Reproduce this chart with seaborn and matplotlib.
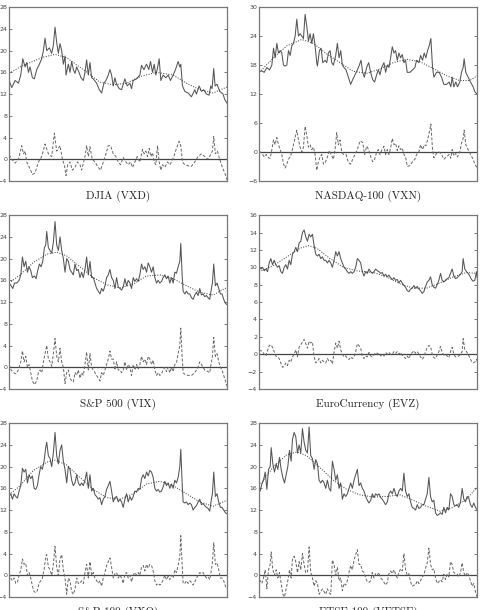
import pandas as pd
import numpy as np
import seaborn as sns
import matplotlib.pyplot as plt

# (obs, value) pairs
# DJIA (VXD)
vxd_level = [(0, 14.5), (8, 13.2), (18, 14.5), (28, 14), (35, 15.5), (41, 18.5), (48, 17), (53, 17.8), (58, 16), (63, 17),
             (70, 15), (76, 14.8), (83, 16.5), (91, 17.5), (98, 18.5), (103, 20), (108, 22.3), (113, 20), (121, 20.5), (128, 19.5),
             (133, 21), (138, 24.3), (143, 21.5), (148, 19.5), (153, 21.3), (158, 20), (163, 17.5), (168, 19), (171, 15.5), (178, 17.5),
             (183, 16), (188, 18), (193, 16.5), (198, 15.8), (203, 17), (210, 16), (216, 15), (223, 14.5), (228, 16), (233, 18.3),
             (238, 15.5), (243, 17.8), (248, 15), (253, 14.8), (263, 14), (271, 12.8), (278, 12.2), (285, 14), (291, 14.5), (298, 15.5),
             (303, 16.5), (308, 15.5), (313, 13.5), (318, 15), (323, 13.8), (331, 13), (338, 12.8), (348, 14.8), (355, 13.5), (363, 14),
             (368, 13), (373, 14.5), (383, 14.8), (393, 15.5), (398, 17.3), (405, 16.5), (413, 17.5), (420, 16.5), (425, 18), (431, 16),
             (436, 17.5), (441, 15.5), (445, 16.5), (451, 18.5), (456, 14.5), (463, 15.5), (471, 15), (478, 15.5), (485, 14.5), (493, 15.5),
             (500, 16.5), (508, 18), (513, 17), (516, 17.5), (521, 13.5), (528, 12.5), (538, 12.2), (548, 11.5), (558, 12.8), (563, 12),
             (571, 13.5), (578, 12.5), (585, 12.8), (593, 12), (601, 11.8), (606, 13.5), (610, 13), (615, 16.7), (619, 13.5), (625, 13.8),
             (633, 12.5), (643, 12), (648, 11), (655, 10.3)]
vxd_trend = [(0, 15.8), (33, 17), (63, 17.8), (103, 18.8), (138, 19.3), (173, 18.7), (223, 16.5), (273, 14.2), (313, 13.7),
             (353, 14), (393, 15.2), (443, 16), (493, 15.5), (533, 14), (573, 12.8), (613, 12.2), (655, 13.3)]
vxd_cycle = [(0, 0.8), (8, 0), (18, -0.7), (28, 0), (38, 2.5), (43, 1), (48, 1.5), (53, -0.5), (61, -1.5), (70, -2.8),
             (78, -2.5), (88, -0.5), (98, 0.5), (108, 2.8), (118, 1), (128, 0.5), (136, 4.8), (143, 1.5), (153, 2.5), (160, 0),
             (166, -1), (171, -3), (176, -1), (183, -0.5), (190, -2), (198, -1.5), (205, -0.5), (213, -1), (218, -2), (228, 0.5),
             (233, 2.5), (238, 0.5), (243, 2.3), (250, 0), (258, -0.5), (268, -1.5), (275, -2), (283, -0.5), (291, 1), (298, 2.5),
             (305, 2.5), (313, 1), (321, 0.5), (328, -0.5), (335, -1), (343, 0.3), (351, -0.5), (358, -1), (365, -0.5), (371, -1.5),
             (378, -0.5), (385, 0.5), (393, -0.5), (401, 1.8), (406, 1), (411, 1.5), (416, 0.5), (421, 2), (426, 0.5), (431, 1.2),
             (436, -0.5), (441, -1), (446, 2.5), (451, -0.5), (456, -2), (461, -1), (468, -1.5), (476, -0.5), (483, -1), (488, -0.5),
             (495, 0.5), (503, 2), (511, 3.3), (516, 2.5), (521, -0.5), (528, -1), (538, -1.2), (548, -1.3), (558, -0.5), (568, 0.5),
             (578, 1), (588, 0.5), (598, 0), (605, 0.8), (611, 1.5), (615, 4.2), (620, 1), (626, 1.5), (633, 0), (641, -1.5),
             (648, -2.5), (655, -3.8)]

# NASDAQ-100 (VXN)
vxn_level = [(0, 16.6), (8, 16.8), (15, 16.5), (23, 17.5), (31, 17), (38, 18), (43, 21.5), (48, 19.5), (53, 22.5), (58, 20.5),
             (63, 21), (68, 20.5), (73, 18), (78, 17.8), (83, 18), (88, 21), (93, 20), (98, 22), (103, 22.5), (108, 24),
             (113, 27.5), (118, 24), (123, 24.5), (128, 24), (133, 23.5), (138, 28.5), (143, 26), (148, 23), (153, 24.5), (158, 22.5),
             (163, 24.5), (168, 22), (173, 18.5), (175, 17.8), (181, 21), (186, 21.5), (191, 18.5), (198, 19), (203, 18.5), (208, 20.5),
             (213, 21), (218, 18.5), (223, 18), (230, 20), (235, 22.5), (240, 19.5), (245, 21), (250, 18), (255, 17.5), (261, 17),
             (268, 15.5), (275, 14), (281, 15), (288, 16), (295, 17), (301, 18), (306, 19), (311, 16.5), (316, 15.5), (323, 17.5),
             (329, 18.5), (335, 16.5), (341, 15), (347, 14.5), (353, 16), (358, 17), (363, 16), (368, 17.5), (375, 18.5), (380, 16.5),
             (385, 18), (390, 17.5), (395, 19.5), (400, 21.8), (405, 20.5), (410, 21), (415, 19), (420, 20.5), (425, 19.5), (430, 20.2),
             (435, 18.5), (440, 19), (445, 16.5), (453, 16.5), (461, 17), (468, 17.5), (473, 19), (480, 18.5), (485, 20), (491, 19),
             (496, 20.5), (501, 19.5), (506, 21), (511, 22), (516, 23.5), (521, 17.5), (525, 15.5), (533, 16.5), (541, 16.5), (548, 15.5),
             (555, 14), (563, 14), (571, 14.5), (576, 13.5), (580, 15.5), (585, 13.5), (591, 14.5), (596, 13.5), (603, 14.5), (608, 16.5),
             (613, 17.5), (616, 19.3), (621, 16.5), (628, 15.5), (635, 14.5), (643, 13.5), (648, 12.5), (655, 12)]
vxn_trend = [(0, 16.5), (43, 19.5), (83, 22), (128, 23.3), (163, 22.5), (203, 20.3), (243, 18.5), (283, 16.7), (323, 16.3),
             (363, 17.2), (403, 18.5), (443, 19.2), (483, 18.7), (523, 17.3), (563, 15.8), (603, 14.8), (633, 14.8), (655, 15.8)]
vxn_cycle = [(0, 0.2), (8, -0.3), (15, -1), (21, -0.5), (28, -1.2), (33, -1.3), (38, 0.5), (43, 2.5), (48, 1.5), (53, 3),
             (58, 1.5), (63, 0.5), (68, -0.5), (73, -2.5), (78, -3.3), (83, -2.5), (88, -1.5), (93, -1), (98, 0), (103, 1.5),
             (108, 3), (113, 4.5), (118, 2.5), (123, 1), (128, 0), (133, 1), (138, 5.3), (143, 3.5), (148, 1), (153, 1.5),
             (158, 0.5), (163, 1), (168, -0.5), (173, -3.8), (178, -2), (183, -1), (188, -0.5), (193, -2.5), (198, -2.3), (205, -1),
             (211, 0.3), (216, -0.5), (223, -1.5), (228, 0.5), (233, 4), (238, 1.5), (243, 2.5), (248, 0), (253, -0.5), (261, -0.5),
             (268, -2.2), (275, -2.5), (281, -1.5), (288, -0.5), (295, 0.5), (303, 2.3), (311, 2), (317, -0.5), (323, 1.2), (329, 0.5),
             (335, -1), (341, -2), (347, -1.5), (353, 0), (358, 0.5), (363, -0.5), (369, 0.5), (375, 1.2), (380, -0.5), (385, 0.5),
             (390, -0.5), (395, 0.8), (400, 2.8), (405, 1.5), (410, 1.8), (415, 0.3), (420, 1.3), (425, 0.5), (430, 0.8), (435, -0.5),
             (440, -1), (445, -3), (453, -2.8), (461, -2), (468, -1.5), (473, -0.5), (480, 0), (485, 1.5), (491, 0.5), (496, 1.5),
             (501, 1.3), (506, 2.5), (511, 4), (516, 5.8), (521, 0.5), (525, -1.2), (533, -0.3), (541, 0), (548, -0.5), (555, -1.5),
             (563, -1), (571, -0.5), (576, -1.3), (580, 0.5), (585, -0.8), (591, -0.3), (596, -1), (603, 0), (608, 1.8), (613, 2.8),
             (616, 4.5), (621, 1.5), (628, 0.5), (635, -0.5), (643, -1.5), (648, -2.5), (655, -3.3)]

# S&P 500 (VIX)
vix_level = [(0, 15.5), (6, 15), (11, 14.5), (16, 15.5), (23, 15.5), (30, 16), (35, 17), (40, 20.3), (45, 18.5), (50, 19.5),
             (55, 17.5), (60, 18.5), (65, 17.8), (70, 16.5), (76, 16.8), (81, 16.3), (86, 17.8), (91, 19), (96, 18.5), (101, 19.5),
             (106, 22), (110, 22.5), (113, 25), (118, 22), (123, 21.5), (128, 21), (133, 23), (138, 26.8), (143, 22.5), (148, 21.5),
             (153, 24), (158, 21.5), (163, 20), (168, 17.5), (173, 20), (178, 19.5), (183, 18), (188, 17.5), (193, 17), (198, 19),
             (203, 17.8), (208, 18), (213, 16.5), (218, 17.5), (223, 16.5), (228, 18), (233, 20.3), (238, 17), (243, 19.5), (248, 16.5),
             (253, 16.5), (258, 15.5), (263, 14.5), (268, 14), (273, 13.5), (278, 14.5), (283, 14), (288, 15), (293, 16.5), (298, 17),
             (303, 18), (308, 16.5), (313, 16), (318, 14.5), (323, 16.5), (328, 14.8), (333, 14.5), (338, 14.2), (343, 14.8), (348, 16.3),
             (353, 15), (358, 16), (363, 15.5), (368, 14.5), (373, 16.5), (378, 15.8), (383, 16.3), (388, 15.8), (393, 17), (398, 19),
             (403, 18), (408, 18.5), (413, 17.5), (418, 19.2), (423, 18.5), (428, 17.5), (433, 18.5), (438, 16.5), (443, 15.5), (448, 16),
             (453, 15.5), (458, 15.8), (463, 16.5), (468, 17), (473, 16.3), (478, 16.8), (483, 15.5), (488, 16.5), (493, 15.5), (498, 17.5),
             (503, 17.3), (508, 18.5), (513, 19.5), (516, 22.8), (520, 17), (523, 14), (528, 13.5), (533, 14), (538, 13.5), (543, 13.5),
             (548, 12.8), (553, 12.5), (558, 13.3), (563, 13.8), (568, 13.2), (573, 14.5), (578, 13.3), (583, 13.5), (588, 13), (593, 13.2),
             (598, 12.8), (603, 12.5), (608, 14.5), (611, 15.5), (615, 19), (620, 15), (625, 15.5), (630, 14.5), (635, 13.5), (640, 13.5),
             (645, 12.5), (650, 11.8), (655, 11.5)]
vix_trend = [(0, 15.5), (33, 17), (73, 19.3), (113, 20.8), (143, 21.2), (173, 20.5), (213, 18.5), (253, 16.5), (293, 15.2),
             (333, 14.6), (373, 15.3), (413, 16.8), (453, 17), (493, 16.3), (533, 15), (573, 13.8), (613, 13.3), (655, 14.7)]
vix_cycle = [(0, 0.5), (6, -0.5), (13, -1), (20, -1.2), (28, -0.5), (35, 1), (40, 3), (45, 1), (50, 2), (55, 0),
             (60, 0.5), (65, -1), (70, -2.5), (76, -3.2), (83, -2.5), (88, -1), (93, -0.5), (98, -1), (103, 1), (108, 2.5),
             (113, 4), (118, 1.5), (123, 1), (128, 0.2), (133, 2.5), (138, 5.3), (143, 2), (148, 1), (153, 3.5), (158, 1),
             (163, 0), (168, -3), (173, -1), (178, -0.5), (183, -2), (188, -2.5), (193, -2.7), (198, -1), (203, -1.5), (208, -0.5),
             (213, -2), (218, -1), (223, -1.5), (228, 0.5), (233, 2.8), (238, -0.5), (243, 2.5), (248, 0), (253, -0.5), (258, -1),
             (263, -1.5), (268, -2), (273, -2.5), (278, -1), (283, -1.5), (288, -0.5), (293, 0.5), (298, 1.5), (303, 3), (308, 1.5),
             (313, 1.5), (318, -0.5), (323, 1), (328, -0.5), (333, -0.5), (338, -1), (343, -0.5), (348, 1), (353, -0.5), (358, 0.5),
             (363, 0), (368, -1.5), (373, 0.5), (378, -0.5), (383, 0.5), (388, -0.3), (393, 0.5), (398, 2), (403, 1), (408, 1.5),
             (413, 0.5), (418, 2), (423, 1.5), (428, 0.5), (433, 1.3), (438, -0.5), (443, -1.5), (448, -1), (453, -1.5), (458, -1.2),
             (463, -0.5), (468, 0), (473, -0.8), (478, 0), (483, -1), (488, 0), (493, -0.8), (498, 0.5), (503, 0.8), (508, 2.5),
             (513, 4), (516, 7.2), (520, 2), (523, -1), (528, -1.3), (538, -1.5), (548, -1.5), (558, -1), (568, 0), (573, 1),
             (578, 0.5), (588, -0.5), (598, -0.8), (603, -1), (608, 1), (611, 2), (615, 5.5), (620, 2), (625, 2.5), (630, 1),
             (635, 0), (640, -0.5), (645, -1.5), (650, -2.5), (655, -3.5)]

# EuroCurrency (EVZ)
evz_level = [(0, 10), (5, 9.8), (10, 10), (15, 9.6), (20, 9.8), (25, 9.5), (30, 10.5), (35, 11), (40, 10.3), (45, 10.8),
             (50, 10.3), (55, 10), (60, 10.2), (65, 9.5), (70, 9.3), (75, 10), (80, 10.3), (85, 9.8), (90, 10.8), (95, 10.3),
             (100, 11.5), (105, 11.8), (110, 12.3), (115, 11.8), (120, 12.8), (125, 13), (130, 14), (135, 14.3), (140, 13.5), (145, 13),
             (150, 13.8), (155, 13.5), (160, 13.8), (165, 12.5), (170, 11.5), (175, 11.3), (180, 11.5), (185, 11), (190, 11.2), (195, 10.8),
             (200, 10.8), (205, 10.5), (210, 10.8), (215, 10.5), (220, 10), (225, 10.8), (230, 11.8), (235, 11.3), (240, 11.8), (245, 11),
             (250, 10.5), (255, 10), (260, 9.8), (265, 9.5), (270, 9.3), (275, 9.5), (280, 9.3), (285, 9.5), (290, 10), (295, 11),
             (300, 10.8), (305, 10.5), (310, 9.5), (315, 9), (320, 9.5), (325, 9.3), (330, 9.8), (335, 9.5), (340, 9.3), (345, 9.5),
             (350, 9.8), (355, 9.6), (360, 9.5), (365, 9.3), (370, 9.4), (375, 9), (380, 9.2), (385, 8.9), (390, 9.1), (395, 8.8),
             (400, 8.6), (405, 8.8), (410, 8.5), (415, 8.6), (420, 8.2), (425, 8.5), (430, 8.2), (435, 7.9), (440, 7.7), (445, 7.3),
             (450, 7.2), (455, 7.5), (460, 7.6), (465, 7.9), (470, 7.6), (475, 7.8), (480, 7.5), (485, 7.3), (490, 7), (495, 7.2),
             (500, 7.8), (505, 8.3), (510, 8.5), (515, 8.9), (520, 8), (525, 7.7), (530, 7.6), (535, 8), (540, 8.5), (545, 9.3),
             (550, 8.5), (555, 8.3), (560, 8.5), (565, 8.7), (570, 8.8), (575, 9.3), (580, 9.8), (585, 9), (590, 8.7), (595, 8.8),
             (600, 9), (605, 9.2), (610, 9.5), (613, 11), (618, 9.8), (623, 9.5), (628, 9.3), (633, 9), (638, 8.6), (643, 8.4),
             (648, 8.5), (653, 9.5), (655, 8.8)]
evz_trend = [(0, 9.5), (43, 10.2), (83, 11.2), (123, 12.2), (148, 12.5), (173, 12.2), (213, 11), (253, 10), (293, 9.6),
             (343, 9.4), (383, 8.9), (423, 8.1), (463, 7.6), (503, 7.6), (543, 8.2), (583, 8.9), (623, 9.4), (655, 9.3)]
evz_cycle = [(0, 0.5), (5, 0.4), (10, 0.3), (15, 0), (20, -0.2), (25, 0.4), (30, 1), (35, 1.1), (40, 0.8), (45, 0.3),
             (50, -0.2), (55, -0.3), (60, -0.5), (65, -1), (70, -1.5), (75, -1.4), (80, -1), (85, -1.3), (90, -0.7), (95, -0.9),
             (100, -0.3), (105, 0), (110, 0.5), (115, -0.3), (120, 0.8), (125, 1.1), (130, 1.4), (135, 1.7), (140, 1.2), (145, 0.7),
             (150, 1.5), (155, 1.3), (160, 1.4), (165, -0.3), (170, -1), (175, -0.8), (180, -0.5), (185, -1), (190, -0.7), (195, -0.9),
             (200, -1), (205, -0.5), (210, -0.8), (215, -0.7), (220, -1.1), (225, 0.2), (230, 1.3), (235, 0.7), (240, 1.5), (245, 0.5),
             (250, 0), (255, -0.3), (260, -0.2), (265, -0.5), (270, -0.6), (275, -0.3), (280, -0.5), (285, -0.3), (290, 0.3), (295, 1.2),
             (300, 1), (305, 0.7), (310, -0.2), (315, -0.5), (320, -0.2), (325, -0.3), (330, 0.2), (335, -0.2), (340, -0.3), (345, -0.1),
             (350, 0.2), (355, 0.1), (360, 0), (365, -0.2), (370, 0), (375, -0.2), (380, 0.2), (385, 0), (390, 0.2), (395, 0),
             (400, 0), (405, 0.3), (410, 0.1), (415, 0.3), (420, 0), (425, 0.2), (430, -0.1), (435, -0.3), (440, -0.5), (445, -0.2),
             (450, -0.5), (455, 0), (460, 0.2), (465, 0.4), (470, 0.1), (475, 0.3), (480, 0), (485, -0.3), (490, -0.6), (495, -0.3),
             (500, 0.3), (505, 0.8), (510, 1), (515, 0.9), (520, 0), (525, -0.4), (530, -0.5), (535, -0.1), (540, 0.3), (545, 0.9),
             (550, 0.2), (555, -0.1), (560, 0), (565, -0.2), (570, -0.4), (575, 0.3), (580, 0.8), (585, 0), (590, -0.3), (595, -0.3),
             (600, -0.2), (605, 0), (610, 0.3), (613, 1.8), (618, 0.5), (623, 0.3), (628, 0), (633, -0.4), (638, -0.8), (643, -1),
             (648, -0.9), (653, -0.6), (655, -0.8)]

# S&P 100 (VXO)
vxo_level = [(0, 14.5), (5, 15), (10, 14), (15, 15), (20, 14.5), (25, 14.2), (30, 15.5), (35, 16.5), (40, 19.7), (45, 19),
             (50, 19.5), (55, 17), (60, 18.5), (65, 17.8), (70, 18.3), (75, 16), (80, 15.8), (85, 16.5), (90, 18.5), (95, 20),
             (100, 19.5), (105, 21), (110, 23.5), (113, 24.5), (118, 22), (123, 21.5), (128, 20), (133, 22.5), (138, 26.3), (143, 22),
             (148, 20.5), (153, 23), (158, 24), (163, 21), (168, 19.5), (173, 17), (178, 20), (183, 19.5), (188, 17.5), (193, 16.5),
             (198, 17), (203, 18.5), (208, 17), (213, 16.5), (218, 17), (223, 16.5), (228, 17.5), (233, 19), (238, 16), (243, 18.5),
             (248, 15.5), (253, 16), (258, 14.8), (263, 14.5), (268, 14), (273, 14.3), (278, 13), (283, 14), (288, 14.5), (293, 15.8),
             (298, 16.5), (303, 17.3), (308, 15.5), (313, 13.5), (318, 14.3), (323, 14.5), (328, 13.5), (333, 14), (338, 13.5), (343, 12.5),
             (348, 14), (353, 15), (358, 13.5), (363, 14.5), (368, 13.8), (373, 14.5), (378, 15.5), (383, 15.3), (388, 16), (393, 15.8),
             (398, 17.8), (403, 18.5), (408, 17.8), (413, 19), (418, 18.3), (423, 19.3), (428, 19), (433, 18), (438, 16), (443, 15.5),
             (448, 15.8), (453, 15.3), (458, 15.5), (463, 16.3), (468, 17.3), (473, 16.5), (478, 17), (483, 16), (488, 16.8), (493, 16),
             (498, 17.5), (503, 17), (508, 18), (513, 20), (516, 23.2), (520, 17), (523, 13.5), (528, 13.3), (533, 13.5), (538, 13),
             (543, 13.3), (548, 13), (553, 12), (558, 12.5), (563, 12.8), (568, 13.5), (573, 14), (578, 13), (583, 13.2), (588, 12.8),
             (593, 12.5), (598, 12.3), (603, 11.8), (608, 14), (611, 15), (615, 19), (620, 14.5), (625, 15), (630, 13.5), (635, 12.5),
             (640, 12.5), (645, 12), (650, 11.5), (655, 11.3)]
vxo_trend = [(0, 14.8), (33, 16.5), (73, 19.3), (113, 20.8), (138, 21.2), (173, 20.3), (213, 18), (253, 15.8), (293, 14.3),
             (333, 14), (373, 15), (413, 16.8), (453, 17.3), (493, 16.5), (533, 15), (573, 13.5), (613, 12.7), (655, 13.8)]
vxo_cycle = [(0, 0.3), (5, -0.5), (10, -1), (15, -0.5), (20, -1.5), (25, -1.3), (30, 0), (35, 1), (40, 3), (45, 2),
             (50, 2.2), (55, 0), (60, 0.5), (65, -0.5), (70, -2), (75, -3), (80, -3.2), (85, -2.8), (90, -1.5), (95, -1),
             (100, -0.5), (105, 1), (110, 3.5), (113, 3.8), (118, 1.5), (123, 1), (128, 0), (133, 2), (138, 5.3), (143, 1.5),
             (148, 0), (153, 3), (158, 3.8), (163, 1), (168, -0.5), (173, -3.5), (178, -0.5), (183, -1), (188, -3), (193, -3.5),
             (198, -2.5), (203, -0.5), (208, -1.5), (213, -1.5), (218, -1), (223, -1.5), (228, 0.5), (233, 2), (238, -0.5), (243, 2.5),
             (248, 0), (253, 0.5), (258, -0.5), (263, -1), (268, -1.5), (273, -1), (278, -2), (283, -0.5), (288, 0.5), (293, 1.8),
             (298, 2.5), (303, 3.2), (308, 1.5), (313, -0.5), (318, 0.3), (323, 0.5), (328, -0.5), (333, 0), (338, -0.5), (343, -1.5),
             (348, 0.3), (353, 0.5), (358, -0.5), (363, 0), (368, -1.2), (373, 0), (378, 0.5), (383, 0), (388, 0.5), (393, 0),
             (398, 1.5), (403, 1.8), (408, 0.8), (413, 2), (418, 1.3), (423, 2), (428, 1.8), (433, 0.8), (438, -1), (443, -1.8),
             (448, -1.5), (453, -1.8), (458, -1.5), (463, -0.8), (468, 0), (473, -0.8), (478, -0.2), (483, -0.8), (488, 0), (493, -0.5),
             (498, 1), (503, 0.5), (508, 1.8), (513, 3.5), (516, 7.3), (520, 2), (523, -1.5), (528, -1.5), (533, -1), (538, -1.5),
             (543, -1), (548, -1.3), (553, -1.8), (558, -1.3), (563, -0.5), (568, 0), (573, 0.5), (578, 0.3), (583, 0.5), (588, 0),
             (593, -0.5), (598, -0.3), (603, -0.8), (608, 1), (611, 2.3), (615, 6), (620, 2), (625, 2.3), (630, 1), (635, -0.5),
             (640, -0.5), (645, -1), (650, -2), (655, -2.5)]

# FTSE 100 (VFTSE)
vftse_level = [(0, 16.5), (3, 15.5), (8, 16.8), (13, 17.5), (18, 19), (23, 15.8), (28, 19.5), (33, 20), (36, 23.5), (41, 20.5),
               (46, 19), (51, 20.5), (56, 19.5), (61, 21.7), (66, 19.5), (71, 18), (76, 17), (81, 18.5), (86, 20), (91, 23),
               (96, 21), (100, 25), (105, 26.3), (110, 25.5), (115, 22.5), (120, 24), (125, 22.5), (130, 27), (135, 24.5), (140, 23),
               (145, 22.5), (150, 27.3), (155, 22), (160, 21.5), (165, 19.5), (170, 21.3), (175, 20.5), (180, 17.5), (185, 17), (190, 17.5),
               (195, 17), (200, 16), (205, 17.5), (210, 16), (215, 15.5), (220, 21), (225, 19.5), (230, 17.5), (235, 18.5), (240, 16),
               (245, 17), (250, 14), (255, 15), (260, 14.5), (265, 15), (270, 16), (275, 17), (280, 16), (285, 17.5), (290, 18.5),
               (295, 19.5), (300, 16.5), (305, 17), (310, 16), (315, 15.5), (320, 14.5), (325, 13.8), (330, 13.3), (335, 13.8), (340, 15),
               (345, 14.3), (350, 15), (355, 14.7), (360, 15), (365, 14.3), (370, 14), (375, 13.5), (380, 13), (385, 13.5), (390, 15),
               (395, 15.5), (400, 15), (405, 16), (410, 15), (415, 14.5), (420, 15.5), (425, 16), (430, 15.5), (435, 18.8), (440, 15.5),
               (445, 14.5), (450, 15), (455, 13.5), (460, 12.5), (465, 12.3), (470, 12), (475, 13), (480, 12.3), (485, 12.5), (490, 13),
               (495, 13), (500, 14), (505, 15), (510, 18), (515, 14.5), (520, 13.5), (525, 13.8), (530, 11.5), (535, 11), (540, 11.2),
               (545, 11.5), (550, 11.2), (555, 12.5), (560, 11.5), (565, 12.5), (570, 12), (575, 15), (580, 14.5), (585, 13), (590, 12.8),
               (595, 13), (600, 12.5), (605, 13.5), (610, 16), (615, 14), (620, 13.5), (625, 14.5), (630, 14.2), (635, 13), (640, 12.5),
               (645, 13.3), (650, 12.5), (655, 12)]
vftse_trend = [(0, 16.5), (43, 20), (83, 22.2), (113, 22.7), (143, 22), (183, 19.8), (223, 17.5), (263, 15.8), (303, 14.8),
               (343, 14.4), (383, 14.5), (423, 14.8), (463, 13.8), (503, 12.7), (543, 11.8), (583, 12.5), (623, 14), (655, 16.2)]
vftse_cycle = [(0, -0.8), (3, -1), (8, -1.5), (13, -0.5), (18, 1), (23, -2.5), (28, 1), (33, 2), (36, 4.3), (41, 1),
               (46, 0), (51, 1), (56, -0.5), (61, 0.5), (66, -1.5), (71, -3.5), (76, -4), (81, -2.5), (86, -1), (91, 1),
               (96, -0.5), (100, 3), (105, 3.5), (110, 2.5), (115, 0.5), (120, 2.5), (125, 1), (130, 4), (135, 2), (140, 0.5),
               (145, 0.5), (150, 5.2), (155, 0.5), (160, -0.5), (165, -2), (170, -1), (175, -1.5), (180, -3.5), (185, -3), (190, -2.5),
               (195, -3), (200, -3.5), (205, -2.5), (210, -3.2), (215, -3.5), (220, 2.8), (225, 2), (230, 0), (235, 1.5), (240, -1),
               (245, -0.5), (250, -2.8), (255, -1.5), (260, -1.8), (265, -1), (270, 0.5), (275, 1.8), (280, 1), (285, 2.8), (290, 3.8),
               (295, 4.7), (300, 2), (305, 2), (310, 0.8), (315, 0.5), (320, -0.5), (325, -1.2), (330, -1.3), (335, -1), (340, 0.5),
               (345, -0.5), (350, 0.3), (355, 0), (360, 0.5), (365, -0.5), (370, -0.8), (375, -1.3), (380, -1.8), (385, -1.3), (390, 0.3),
               (395, 0.8), (400, 0.3), (405, 1), (410, 0.2), (415, -0.5), (420, 0.5), (425, 1.2), (430, 0.8), (435, 4), (440, 1),
               (445, 0), (450, 0.3), (455, -1.2), (460, -2), (465, -1.8), (470, -1.8), (475, -1), (480, -1.5), (485, -1), (490, -0.3),
               (495, 0), (500, 1.3), (505, 2.3), (510, 5), (515, 2), (520, 1), (525, 1.2), (530, -0.5), (535, -1.5), (540, -1.2),
               (545, -0.8), (550, -1.2), (555, 0.2), (560, -0.8), (565, 0.3), (570, -0.3), (575, 2.5), (580, 2), (585, 0.5), (590, 0.3),
               (595, 0.2), (600, -0.3), (605, 0.5), (610, 2.3), (615, 0.5), (620, -0.2), (625, 0.5), (630, 0), (635, -1), (640, -2),
               (645, -1.5), (650, -3), (655, -4)]

titles = ['DJIA (VXD)', 'NASDAQ-100 (VXN)', 'S&P 500 (VIX)', 'EuroCurrency (EVZ)', 'S&P 100 (VXO)', 'FTSE 100 (VFTSE)']
levels = [vxd_level, vxn_level, vix_level, evz_level, vxo_level, vftse_level]
trends = [vxd_trend, vxn_trend, vix_trend, evz_trend, vxo_trend, vftse_trend]
cycles = [vxd_cycle, vxn_cycle, vix_cycle, evz_cycle, vxo_cycle, vftse_cycle]
y_ranges = [(-4, 28, 4), (-6, 30, 6), (-4, 28, 4), (-4, 16, 2), (-4, 28, 4), (-4, 28, 4)]

sns.set_style('white')
plt.rcParams['font.family'] = ['DejaVu Sans']

fig = plt.figure(figsize=(4.8, 6.1), dpi=100)

# axes rectangles (figure fractions), 3 rows x 2 cols
col_left = [0.019, 0.540]
row_bottom = [0.7033, 0.3623, 0.0213]
w, h = 0.454, 0.285

for i in range(6):
    r, c = divmod(i, 2)
    ax = fig.add_axes([col_left[c], row_bottom[r], w, h])

    lvl = pd.DataFrame(levels[i], columns=['t', 'v'])
    trd = pd.DataFrame(trends[i], columns=['t', 'v'])
    cyc = pd.DataFrame(cycles[i], columns=['t', 'v'])

    ax.axhline(0, color='#444444', lw=0.9, zorder=1)
    sns.lineplot(data=lvl, x='t', y='v', ax=ax, color='#555555', lw=0.75, estimator=None)
    sns.lineplot(data=trd, x='t', y='v', ax=ax, color='#333333', lw=0.7, estimator=None,
                 linestyle=(0, (1, 1.6)))
    sns.lineplot(data=cyc, x='t', y='v', ax=ax, color='#666666', lw=0.7, estimator=None,
                 linestyle=(0, (3, 1.8)))

    lo, hi, step = y_ranges[i]
    ax.set_xlim(0, 655)
    ax.set_ylim(lo, hi)
    ax.set_yticks(np.arange(lo, hi + step, step))
    ax.set_xticks([])
    ax.tick_params(axis='y', direction='in', length=2.5, width=0.5, labelsize=4.5,
                   pad=1.5, right=True, left=True, colors='#444444')
    ax.set_ylabel('')
    ax.set_xlabel(titles[i], fontsize=8, family=['cmr10', 'DejaVu Serif'], labelpad=7, color='#222222')
    for s in ax.spines.values():
        s.set_color('#777777')
        s.set_linewidth(0.9)

fig.savefig('out.png', dpi=100)
